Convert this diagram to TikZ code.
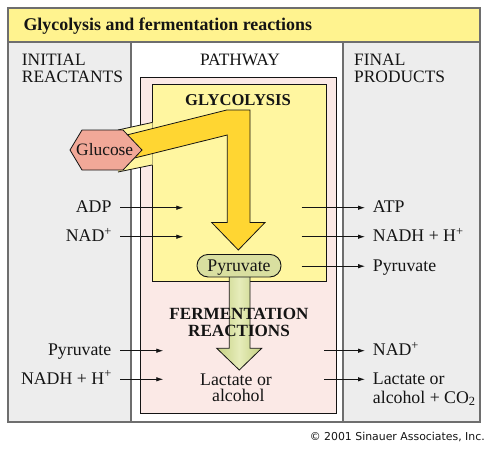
\documentclass[tikz,border=0pt]{standalone}
\usepackage{fontspec}
\setmainfont{Liberation Serif}
\newfontfamily\copyfont{DejaVu Sans}
\usetikzlibrary{arrows.meta}
\newcommand\supplus{\raisebox{0.36em}{\fontsize{12.5}{12}\selectfont +}}
\definecolor{titlebar}{RGB}{255,243,143}
\definecolor{colgray}{RGB}{237,237,237}
\definecolor{framegray}{RGB}{110,110,110}
\definecolor{pinkbox}{RGB}{251,233,230}
\definecolor{yellowbox}{RGB}{255,246,160}
\definecolor{gold}{RGB}{255,214,50}
\definecolor{glucosefill}{RGB}{241,168,152}
\definecolor{pillfill}{RGB}{217,223,160}
\definecolor{greenarr}{RGB}{196,208,128}
\definecolor{greenlight}{RGB}{230,236,186}
\definecolor{ink}{RGB}{20,20,20}
\begin{document}
\begin{tikzpicture}[x=1pt,y=-1pt,
  txt/.style={inner sep=0pt,text=ink,font=\fontsize{17.8}{20}\selectfont},
  hdr/.style={inner sep=0pt,text=ink,font=\fontsize{17.4}{20}\selectfont},
  boldlbl/.style={inner sep=0pt,text=ink,font=\fontsize{17.1}{20}\selectfont\bfseries},
  arr/.style={draw=ink,line width=0.8pt,-{Latex[length=7pt,width=4.5pt]}},
  col/.style={fill=colgray,draw=framegray,line width=1.3pt},
  box/.style={draw=ink,line width=0.9pt}]
\useasboundingbox (0,0) rectangle (488,448);
\fill[white] (0,0) rectangle (488,448);
% columns and title bar
\fill[white] (8,42) rectangle (480,422);
\path[col] (8,42) rectangle (131,422);
\path[col] (343,42) rectangle (480,422);
\path[fill=titlebar,draw=framegray,line width=1.3pt] (8,8) rectangle (480,42);
\draw[framegray,line width=1.3pt] (8,8) rectangle (480,422);
\node[inner sep=0pt,text=ink,anchor=base west,font=\fontsize{17.9}{20}\selectfont\bfseries] (title) at (23.3,30.2) {Glycolysis and fermentation reactions};
% column headers
\node[hdr,anchor=base west] (ini1) at (21.7,65.7) {INITIAL};
\node[hdr,anchor=base west] (ini2) at (21.7,82.3) {REACTANTS};
\node[hdr,anchor=base] (path) at (240,65.7) {PATHWAY};
\node[hdr,anchor=base west] (fin1) at (354,65.7) {FINAL};
\node[hdr,anchor=base west] (fin2) at (354,82.3) {PRODUCTS};
% boxes
\path[box,fill=pinkbox] (140,77) rectangle (336,413);
\path[box,fill=yellowbox] (152,84) rectangle (326,281);
% light band from glucose into glycolysis box
\fill[yellowbox] (118,130) -- (152.5,122.5) -- (152.5,165) -- (118,172) -- cycle;
\draw[ink,line width=0.8pt] (118,130) -- (152,122.5);
\draw[ink,line width=0.8pt] (118,172) -- (152,165);
% gold glycolysis arrow
\path[fill=gold,draw=ink,line width=0.8pt,line join=miter] (118,137.2) -- (226.7,110) -- (250,110) -- (250,222.5) -- (265,222.5) -- (238.3,250) -- (211.7,222.5) -- (227.3,222.5) -- (227.3,135) -- (118,162.1) -- cycle;
% glucose hexagon
\path[fill=glucosefill,draw=ink,line width=0.8pt] (70,150) -- (82,130) -- (123,130) -- (142,150) -- (123,170) -- (82,170) -- cycle;
\node[txt,font=\fontsize{17.4}{20}\selectfont,anchor=base] (glucose) at (104.7,155.2) {Glucose};
\node[boldlbl,font=\fontsize{16.6}{20}\selectfont\bfseries,anchor=base] (glyc) at (238,105) {GLYCOLYSIS};
% green fermentation arrow
\path[draw=ink,line width=0.8pt,left color=greenarr,right color=greenarr,middle color=greenlight] (229.3,274) -- (229.3,348.3) -- (216.7,348.3) -- (239.3,370) -- (261.7,348.3) -- (250,348.3) -- (250,274) -- cycle;
% pyruvate pill
\node[draw=ink,line width=0.9pt,fill=pillfill,rounded corners=11pt,minimum width=84pt,minimum height=22.5pt,inner sep=0pt,text=ink,font=\fontsize{17.8}{20}\selectfont,text height=11pt,text depth=0pt] (pyrM) at (239,265.7) {Pyruvate};
\node[boldlbl,anchor=base] (ferm1) at (239,319.3) {FERMENTATION};
\node[boldlbl,anchor=base] (ferm2) at (239,336.7) {REACTIONS};
\node[txt,anchor=base] (lac1) at (236,385) {Lactate or};
\node[txt,anchor=base] (lac2) at (238.3,401.7) {alcohol};
% left reactants
\node[txt,anchor=base east] (adp) at (111.7,212.7) {ADP};
\node[txt,anchor=base east] (nad) at (111.7,241.7) {NAD\supplus};
\node[txt,anchor=base east] (pyrL) at (111.5,355.7) {Pyruvate};
\node[txt,anchor=base east] (nadhL) at (111.5,384.3) {NADH + H\supplus};
\draw[arr] ([xshift=8.3pt,yshift=5pt]adp.base east) -- ++(63.3,0) coordinate (adpIn);
\draw[arr] ([xshift=8.3pt,yshift=5pt]nad.base east) -- ++(63.3,0) coordinate (nadIn);
\draw[arr] ([xshift=8.5pt,yshift=5pt]pyrL.base east) -- ++(43.3,0) coordinate (pyrIn);
\draw[arr] ([xshift=8.5pt,yshift=5pt]nadhL.base east) -- ++(43.3,0) coordinate (nadhIn);
% right products
\node[txt,anchor=base west] (atp) at (372.7,212.7) {ATP};
\node[txt,anchor=base west] (nadhR) at (372.7,241.7) {NADH + H\supplus};
\node[txt,anchor=base west] (pyrR) at (372.7,271.7) {Pyruvate};
\node[txt,anchor=base west] (nadR) at (372.7,355.7) {NAD\supplus};
\node[txt,anchor=base west] (lacR1) at (372.7,384.3) {Lactate or};
\node[txt,anchor=base west] (lacR2) at (372.7,403.3) {alcohol + CO\textsubscript{2}};
\coordinate (atpOut) at (301.7,207.7);
\coordinate (nadhOut) at (301.7,236.7);
\coordinate (pyrOut) at (301.7,266.2);
\coordinate (nadOut) at (324,350.7);
\coordinate (lacOut) at (324,379.3);
\draw[arr,shorten >=7.7pt] (atpOut) -- (atpOut -| atp.west);
\draw[arr,shorten >=7.7pt] (nadhOut) -- (nadhOut -| nadhR.west);
\draw[arr,shorten >=7.7pt] (pyrOut) -- (pyrOut -| pyrR.west);
\draw[arr,shorten >=7.7pt] (nadOut) -- (nadOut -| nadR.west);
\draw[arr,shorten >=7.7pt] (lacOut) -- (lacOut -| lacR1.west);
% copyright
\node[inner sep=0pt,anchor=base east,text=ink,font=\copyfont\fontsize{10.9}{12}\selectfont] (copy) at (485,440.7) {© 2001 Sinauer Associates, Inc.};
\end{tikzpicture}
\end{document}
